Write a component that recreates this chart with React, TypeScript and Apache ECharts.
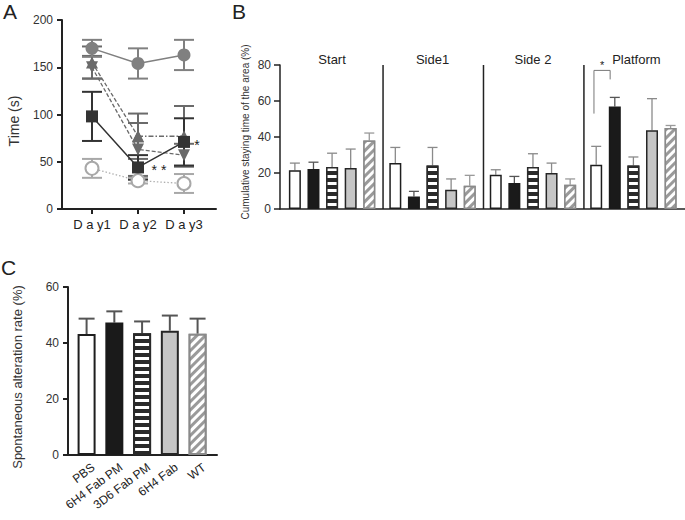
import React, { useEffect, useRef } from 'react';
import * as echarts from 'echarts';

const FONT = '"Liberation Sans", Arial, Helvetica, sans-serif';
const INK = '#222';

// ---------- Panel A ----------
const dayLabels = ['D a y1', 'D a y2', 'D a y3'];
const dayPos = [1, 2, 3];
const aGreyCircle = [170, 154, 163];
const aGreyCircleErr = [9, 16, 16];
const aSquare = [98, 44, 71];
const aSquareErr = [26, 13, 25];
const aTriUp = [155, 77, 77];
const aTriUpErr = [17, 24, 32];
const aTriDown = [150, 63, 57];
const aTriDownErr = [12, 28, 12];
const aOpenCircle = [43, 30, 27];
const aOpenCircleErr = [10, 3, 10];
const aStars: [number, number, string][] = [
  [2, 44, '* *'],
  [3, 71, '*'],
];

// ---------- Panel B ----------
const bAreas = ['Start', 'Side1', 'Side 2', 'Platform'];
const groups = ['PBS', '6H4 Fab PM', '3D6 Fab PM', '6H4 Fab', 'WT'];
const bPBS = [21.5, 25.5, 19.0, 24.6];
const bPBSErr = [4.0, 8.7, 2.8, 10.2];
const b6H4FabPM = [22.2, 7.0, 14.4, 57.0];
const b6H4FabPMErr = [3.8, 2.8, 3.7, 5.0];
const b3D6FabPM = [23.3, 24.2, 23.3, 24.2];
const b3D6FabPMErr = [7.7, 10.0, 7.4, 4.7];
const b6H4Fab = [22.8, 10.7, 20.0, 43.7];
const b6H4FabErr = [10.5, 6.0, 5.5, 17.6];
const bWT = [38.0, 12.9, 13.5, 45.0];
const bWTErr = [4.2, 5.8, 3.2, 1.4];
const bValues = [bPBS, b6H4FabPM, b3D6FabPM, b6H4Fab, bWT];
const bErrs = [bPBSErr, b6H4FabPMErr, b3D6FabPMErr, b6H4FabErr, bWTErr];
// significance bracket in Platform: PBS vs 6H4 Fab PM
const bBracket = [{ area: 3, from: 0, to: 1, leftY: 53, topY: 77, rightY: 72, text: '*' }];

// ---------- Panel C ----------
const cMeans = [43.2, 47.3, 43.5, 44.4, 43.3];
const cErr = [5.5, 4.0, 4.2, 5.4, 5.4];

// layout helpers for panel B (value-axis units: one unit = one bar slot)
const B_FIRST = 0.8;
const B_GROUP_STEP = 5.4;
const bBarX = (g: number, j: number) => B_FIRST + g * B_GROUP_STEP + j;
const bSepX = (g: number) => B_FIRST + g * B_GROUP_STEP - 0.66;

const hStripe = {
  symbol: 'rect',
  symbolSize: 1,
  color: '#ffffff',
  dashArrayX: [1, 0],
  dashArrayY: [2.5, 3.5],
  rotation: 0,
};
const dStripe = {
  symbol: 'rect',
  symbolSize: 1,
  color: '#ffffff',
  dashArrayX: [1, 0],
  dashArrayY: [2.5, 3],
  rotation: -Math.PI / 4,
};
const groupStyle: any[] = [
  { color: '#ffffff', borderColor: '#1e1e1e' },
  { color: '#1a1a1a', borderColor: '#1a1a1a' },
  { color: '#2a2a2a', borderColor: '#2a2a2a', decal: hStripe },
  { color: '#c6c6c6', borderColor: '#262626' },
  { color: '#9a9a9a', borderColor: '#8a8a8a', decal: dStripe },
];
const bErrColor = ['#8a8a8a', '#555', '#8a8a8a', '#8a8a8a', '#9a9a9a'];

function errRender(color: string, capHalf: number, lw: number, both: boolean) {
  return (params: any, api: any) => {
    const x = api.value(0);
    const m = api.value(1);
    const e = api.value(2);
    const top = api.coord([x, m + e]);
    const bot = api.coord([x, both ? m - e : m]);
    const children: any[] = [
      { type: 'line', shape: { x1: top[0], y1: top[1], x2: bot[0], y2: bot[1] }, style: { stroke: color, lineWidth: lw } },
      { type: 'line', shape: { x1: top[0] - capHalf, y1: top[1], x2: top[0] + capHalf, y2: top[1] }, style: { stroke: color, lineWidth: lw } },
    ];
    if (both) {
      children.push({ type: 'line', shape: { x1: bot[0] - capHalf, y1: bot[1], x2: bot[0] + capHalf, y2: bot[1] }, style: { stroke: color, lineWidth: lw } });
    }
    return { type: 'group', children };
  };
}

function aErrSeries(vals: number[], errs: number[], color: string) {
  return {
    type: 'custom',
    xAxisIndex: 0,
    yAxisIndex: 0,
    clip: false,
    z: 2,
    renderItem: errRender(color, 10, 2, true),
    data: vals.map((v, i) => [dayPos[i], v, errs[i]]),
  };
}

function pts(vals: number[], from = 0, to = vals.length) {
  const out: number[][] = [];
  for (let i = from; i < to; i++) out.push([dayPos[i], vals[i]]);
  return out;
}

export default function App() {
  const ref = useRef<HTMLDivElement>(null);

  useEffect(() => {
    if (!ref.current) return;
    const chart = echarts.init(ref.current, undefined, { renderer: 'svg' });

    const axisLine = (w: number) => ({ show: true, onZero: false, lineStyle: { color: INK, width: w } });

    const series: any[] = [];

    // ---- Panel A error bars ----
    series.push(aErrSeries(aOpenCircle, aOpenCircleErr, '#a8a8a8'));
    series.push(aErrSeries(aTriDown, aTriDownErr, '#6a6a6a'));
    series.push(aErrSeries(aTriUp, aTriUpErr, '#6a6a6a'));
    series.push(aErrSeries(aSquare, aSquareErr, '#333'));
    series.push(aErrSeries(aGreyCircle, aGreyCircleErr, '#808080'));

    // ---- Panel A lines ----
    series.push({
      type: 'line', name: 'open circle', xAxisIndex: 0, yAxisIndex: 0, z: 3,
      data: pts(aOpenCircle), symbol: 'emptyCircle', symbolSize: 13,
      itemStyle: { color: '#a8a8a8', borderWidth: 2 },
      lineStyle: { color: '#b0b0b0', width: 1.3, type: [1.5, 2] },
    });
    series.push({
      type: 'line', name: 'triangle down', xAxisIndex: 0, yAxisIndex: 0, z: 3,
      data: pts(aTriDown), symbol: 'triangle', symbolRotate: 180, symbolSize: 12,
      itemStyle: { color: '#6a6a6a' },
      lineStyle: { color: '#6a6a6a', width: 1.3, type: [4, 2] },
    });
    series.push({
      type: 'line', name: 'triangle up', xAxisIndex: 0, yAxisIndex: 0, z: 3,
      data: pts(aTriUp, 0, 2), symbol: 'triangle', symbolSize: 12,
      itemStyle: { color: '#6a6a6a' },
      lineStyle: { color: '#6a6a6a', width: 1.3, type: [4, 2] },
    });
    series.push({
      type: 'line', name: 'triangle up (2-3)', xAxisIndex: 0, yAxisIndex: 0, z: 3,
      data: pts(aTriUp, 1, 3), symbol: 'triangle', symbolSize: 12,
      itemStyle: { color: '#6a6a6a' },
      lineStyle: { color: '#6a6a6a', width: 1.3, type: [5, 2, 1.5, 2] },
    });
    series.push({
      type: 'line', name: 'square', xAxisIndex: 0, yAxisIndex: 0, z: 4,
      data: pts(aSquare), symbol: 'rect', symbolSize: 12,
      itemStyle: { color: '#333' },
      lineStyle: { color: '#333', width: 1.5 },
    });
    series.push({
      type: 'line', name: 'grey circle', xAxisIndex: 0, yAxisIndex: 0, z: 4,
      data: pts(aGreyCircle), symbol: 'circle', symbolSize: 13,
      itemStyle: { color: '#808080' },
      lineStyle: { color: '#808080', width: 1.5 },
    });
    series.push({
      type: 'custom', xAxisIndex: 0, yAxisIndex: 0, clip: false, z: 5,
      data: aStars.map((s) => [s[0], s[1]]),
      renderItem: (params: any, api: any) => {
        const p = api.coord([api.value(0), api.value(1)]);
        const s = aStars[params.dataIndex];
        return {
          type: 'text',
          x: p[0] + (s[2].length > 1 ? 21 : 13),
          y: p[1] + 3,
          style: { text: s[2], fontSize: 14, fontFamily: FONT, fill: INK, align: 'center', verticalAlign: 'middle' },
        };
      },
    });

    // ---- Panel B ----
    series.push({
      type: 'custom', xAxisIndex: 1, yAxisIndex: 1, clip: false, z: 1,
      data: bAreas.slice(1).map((_, i) => [bSepX(i + 1), 0]),
      renderItem: (params: any, api: any) => {
        const x = api.value(0);
        const a = api.coord([x, 0]);
        const b = api.coord([x, 80]);
        return { type: 'line', shape: { x1: a[0], y1: a[1], x2: b[0], y2: b[1] }, style: { stroke: INK, lineWidth: 1.5 } };
      },
    });
    series.push({
      type: 'custom', xAxisIndex: 1, yAxisIndex: 1, clip: false, z: 1,
      data: bAreas.map((_, g) => [bBarX(g, 2), 83]),
      renderItem: (params: any, api: any) => {
        const p = api.coord([api.value(0), api.value(1)]);
        return {
          type: 'text', x: p[0] + (params.dataIndex === 3 ? 3 : 0), y: p[1],
          style: { text: bAreas[params.dataIndex], fontSize: 13, fontFamily: FONT, fill: INK, align: 'center', verticalAlign: 'middle' },
        };
      },
    });
    groups.forEach((name, j) => {
      series.push({
        type: 'custom', xAxisIndex: 1, yAxisIndex: 1, clip: false, z: 2,
        renderItem: errRender(bErrColor[j], 5, 1.3, false),
        data: bValues[j].map((v, g) => [bBarX(g, j), v, bErrs[j][g]]),
      });
    });
    groups.forEach((name, j) => {
      series.push({
        type: 'bar', name, xAxisIndex: 1, yAxisIndex: 1, z: 3,
        barWidth: 12, barGap: '-100%',
        data: bValues[j].map((v, g) => [bBarX(g, j), v]),
        itemStyle: { ...groupStyle[j], borderWidth: 1.5 },
      });
    });
    series.push({
      type: 'custom', xAxisIndex: 1, yAxisIndex: 1, clip: false, z: 4,
      data: bBracket.map((b) => [bBarX(b.area, b.from) - 0.12, b.leftY]),
      renderItem: (params: any, api: any) => {
        const b = bBracket[params.dataIndex];
        const x1 = bBarX(b.area, b.from) - 0.12;
        const x2 = bBarX(b.area, b.to) - 0.25;
        const p1 = api.coord([x1, b.leftY]);
        const p2 = api.coord([x1, b.topY]);
        const p3 = api.coord([x2, b.topY]);
        const p4 = api.coord([x2, b.rightY]);
        return {
          type: 'group',
          children: [
            { type: 'polyline', shape: { points: [p1, p2, p3, p4] }, style: { stroke: '#777', lineWidth: 1, fill: null } },
            { type: 'text', x: (p2[0] + p3[0]) / 2, y: p2[1] - 5, style: { text: b.text, fontSize: 11, fontFamily: FONT, fill: INK, align: 'center', verticalAlign: 'middle' } },
          ],
        };
      },
    });

    // ---- Panel C ----
    series.push({
      type: 'custom', xAxisIndex: 2, yAxisIndex: 2, clip: false, z: 2,
      renderItem: errRender('#555', 8, 2, false),
      data: cMeans.map((m, j) => [j + 1, m, cErr[j]]),
    });
    groups.forEach((name, j) => {
      series.push({
        type: 'bar', name: name + ' (C)', xAxisIndex: 2, yAxisIndex: 2, z: 3,
        barWidth: 18, barGap: '-100%',
        data: [[j + 1, cMeans[j]]],
        itemStyle: { ...groupStyle[j], borderWidth: 2 },
      });
    });
    // category labels of panel C (rotated)
    series.push({
      type: 'custom', xAxisIndex: 2, yAxisIndex: 2, clip: false, z: 5,
      data: groups.map((_, j) => [j + 1, 0]),
      renderItem: (params: any, api: any) => {
        const p = api.coord([api.value(0), 0]);
        return {
          type: 'text', x: p[0] + 3, y: p[1] + 6, rotation: (37 * Math.PI) / 180,
          style: { text: groups[params.dataIndex], fontSize: 12, fontFamily: FONT, fill: INK, align: 'right', verticalAlign: 'top' },
        };
      },
    });

    const option: any = {
      animation: false,
      backgroundColor: '#ffffff',
      textStyle: { fontFamily: FONT },
      grid: [
        { left: 62, top: 20, width: 154, height: 189 },
        { left: 280, top: 65, width: 405, height: 144 },
        { left: 68, top: 287, width: 149, height: 168 },
      ],
      xAxis: [
        {
          type: 'value', gridIndex: 0, min: 0.348, max: 3.696,
          axisLine: axisLine(2),
          axisTick: { show: true, customValues: dayPos, length: 5, lineStyle: { color: INK, width: 2 } },
          axisLabel: { customValues: dayPos, formatter: (v: number) => dayLabels[Math.round(v) - 1], fontSize: 13, color: INK, margin: 9 },
          splitLine: { show: false },
        },
        {
          type: 'value', gridIndex: 1, min: 0, max: 405 / 18.6,
          axisLine: axisLine(1.5), axisTick: { show: false }, axisLabel: { show: false }, splitLine: { show: false },
        },
        {
          type: 'value', gridIndex: 2, min: 0.33, max: 5.7,
          axisLine: axisLine(2),
          axisTick: { show: false }, axisLabel: { show: false },
          splitLine: { show: false },
        },
      ],
      yAxis: [
        {
          type: 'value', gridIndex: 0, min: 0, max: 200, interval: 50,
          axisLine: axisLine(2), axisTick: { show: true, length: 5, lineStyle: { color: INK, width: 2 } },
          axisLabel: { fontSize: 12, color: '#333', margin: 9 }, splitLine: { show: false },
        },
        {
          type: 'value', gridIndex: 1, min: 0, max: 80, interval: 20,
          axisLine: axisLine(1.5), axisTick: { show: true, length: 6, lineStyle: { color: INK, width: 1.5 } },
          axisLabel: { fontSize: 12, color: '#333', margin: 9 }, splitLine: { show: false },
        },
        {
          type: 'value', gridIndex: 2, min: 0, max: 60, interval: 20,
          axisLine: axisLine(2), axisTick: { show: true, length: 5, lineStyle: { color: INK, width: 2 } },
          axisLabel: { fontSize: 12, color: '#333', margin: 9 }, splitLine: { show: false },
        },
      ],
      graphic: [
        { type: 'text', left: 3, top: 1, style: { text: 'A', fontSize: 21, fontFamily: FONT, fill: INK } },
        { type: 'text', left: 232, top: 1, style: { text: 'B', fontSize: 21, fontFamily: FONT, fill: INK } },
        { type: 'text', left: 1, top: 257, style: { text: 'C', fontSize: 21, fontFamily: FONT, fill: INK } },
        { type: 'text', x: 14, y: 121, rotation: Math.PI / 2, style: { text: 'Time (s)', fontSize: 14, fontFamily: FONT, fill: '#333', align: 'center', verticalAlign: 'middle' } },
        { type: 'text', x: 245, y: 132, rotation: Math.PI / 2, style: { text: 'Cumulative staying time of the area (%)', fontSize: 10, fontFamily: FONT, fill: '#333', align: 'center', verticalAlign: 'middle' } },
        { type: 'text', x: 17, y: 377, rotation: Math.PI / 2, style: { text: 'Spontaneous alteration rate (%)', fontSize: 13, fontFamily: FONT, fill: '#333', align: 'center', verticalAlign: 'middle' } },
      ],
      series,
    };

    chart.setOption(option);
    return () => chart.dispose();
  }, []);

  return <div ref={ref} style={{ position: 'fixed', left: 0, top: 0, width: 685, height: 520, background: '#fff' }} />;
}
